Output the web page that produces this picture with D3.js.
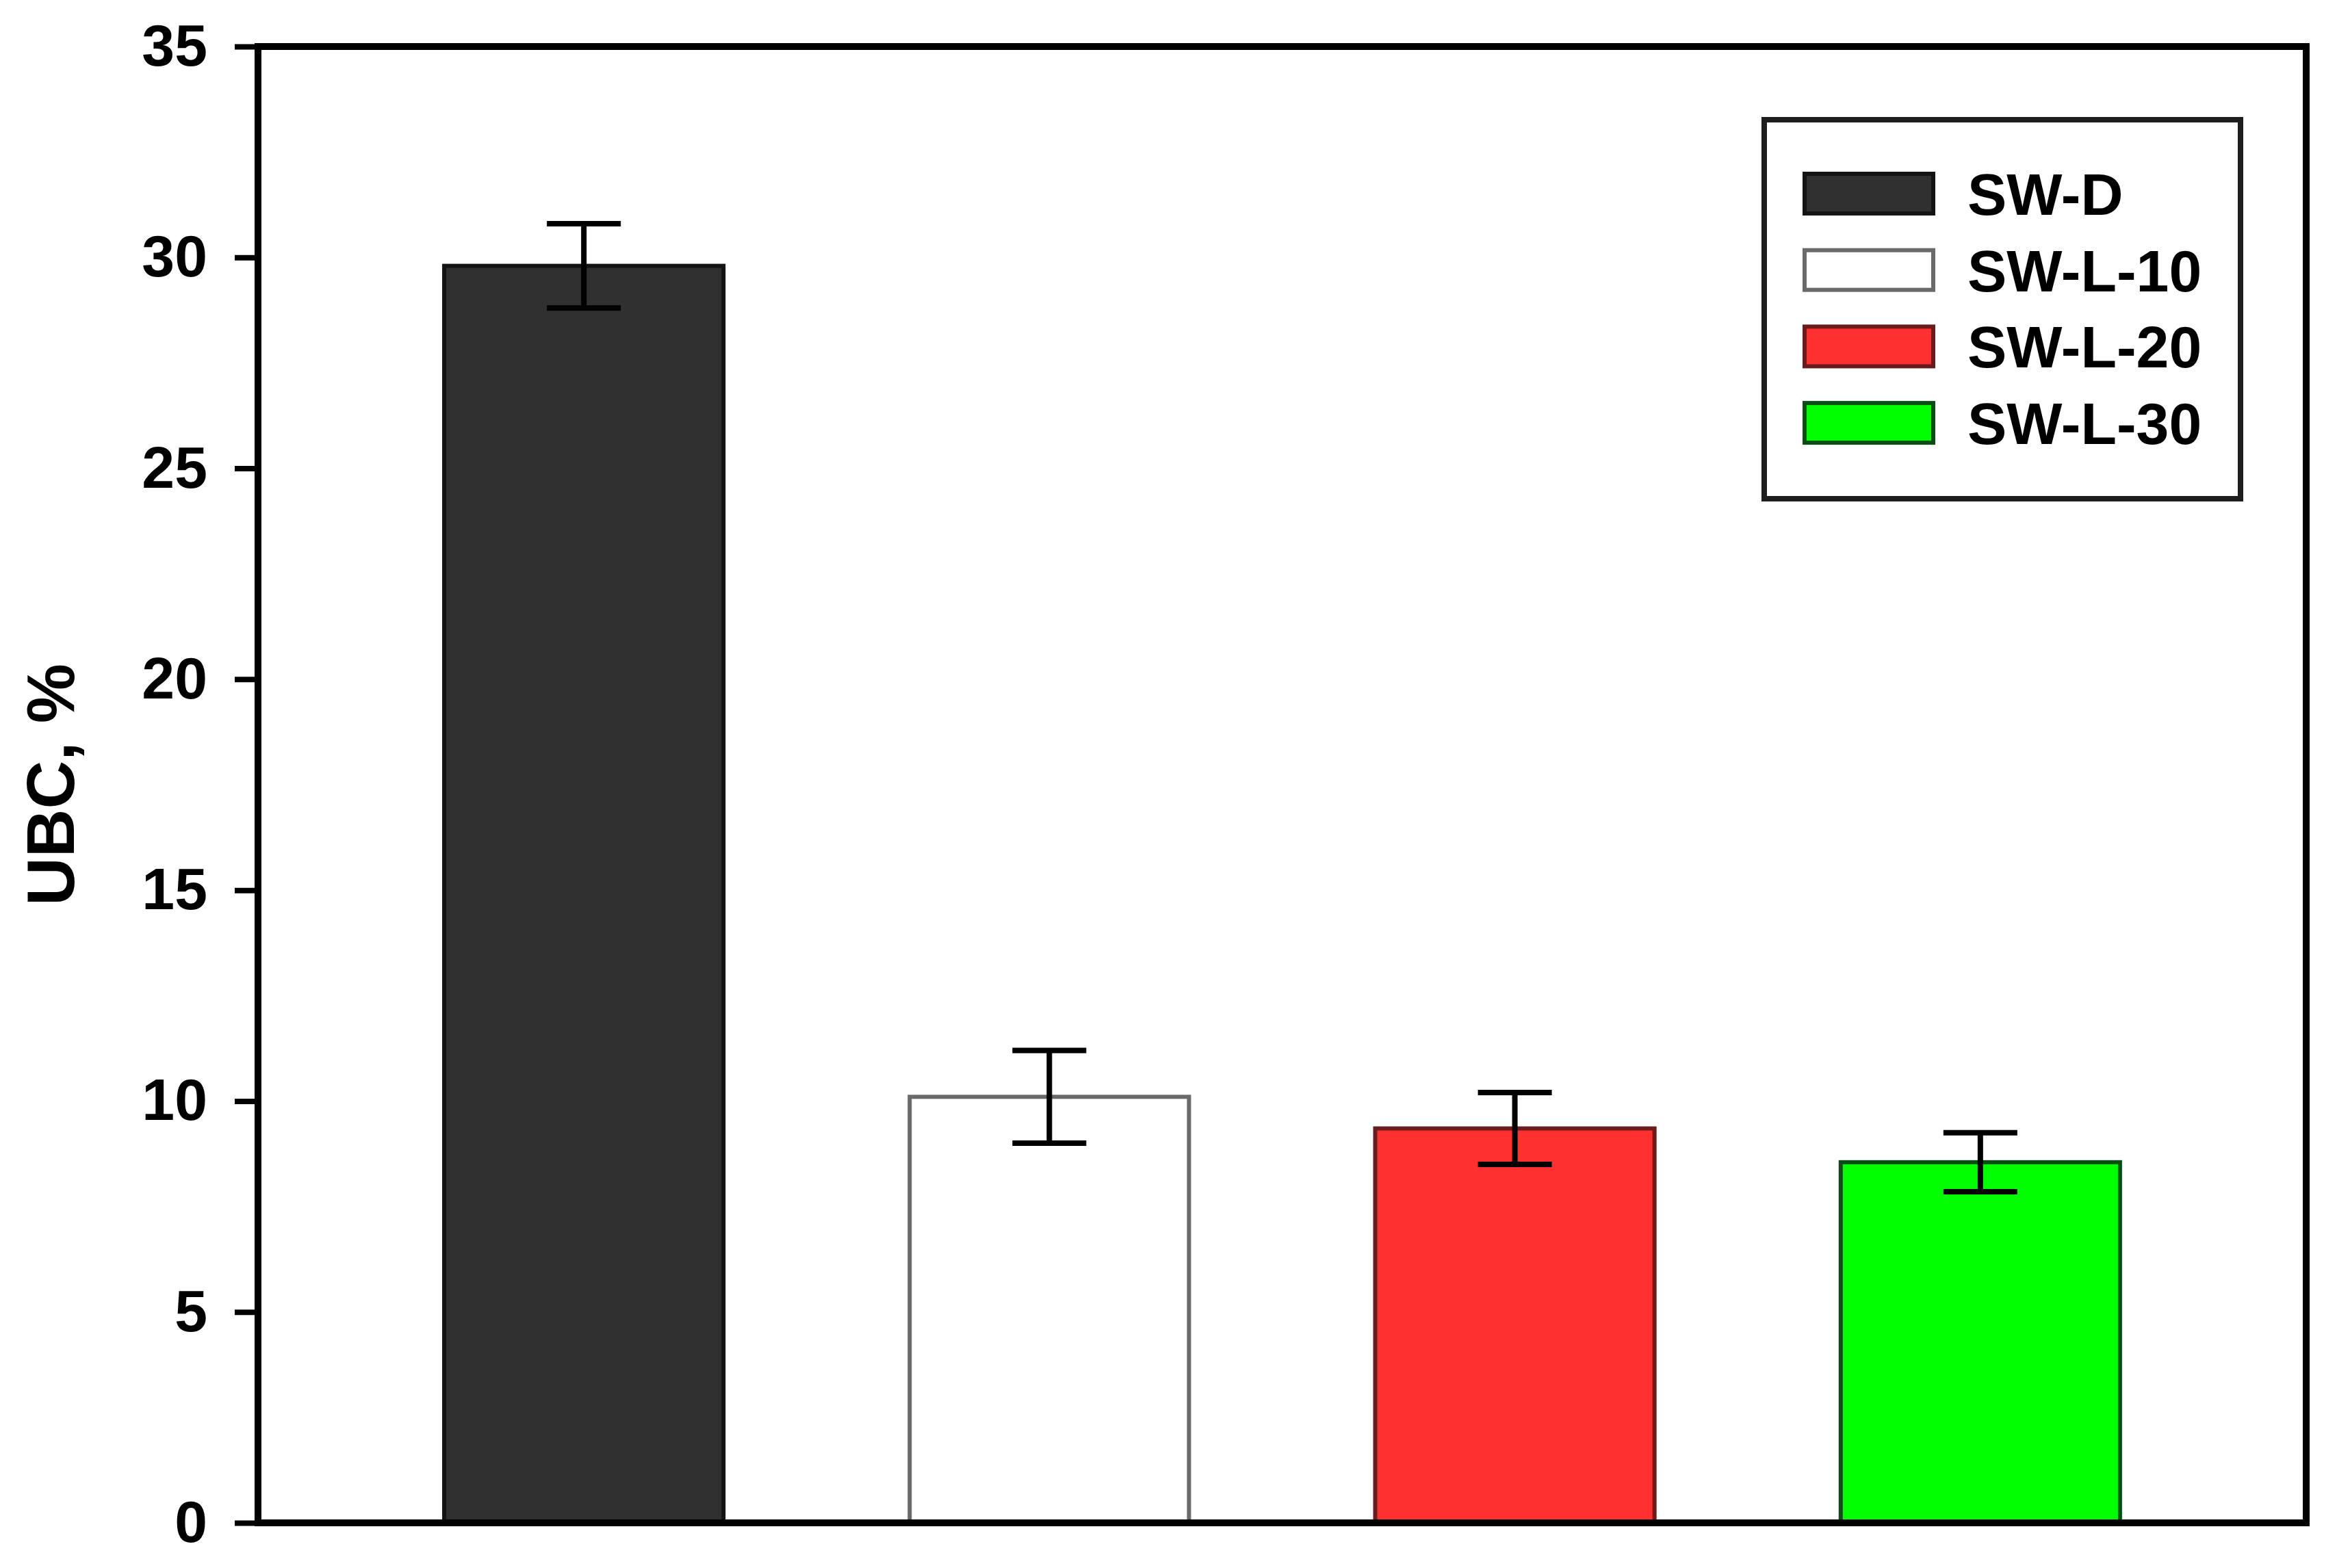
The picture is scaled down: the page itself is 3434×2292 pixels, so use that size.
<!DOCTYPE html>
<html>
<head>
<meta charset="utf-8">
<script src="https://cdn.jsdelivr.net/npm/d3@7"></script>
<style>
  body { margin: 0; background: #ffffff; }
  text { font-family: "Liberation Sans", Arial, sans-serif; font-weight: bold; }
</style>
</head>
<body>
<svg></svg>
<script>
// Data
const samples = ["SW-D", "SW-L-10", "SW-L-20", "SW-L-30"];
const ubcValues = [29.8, 10.1, 9.35, 8.55];
const ubcErrors = [1.0, 1.1, 0.85, 0.7];
const yTicks = [0, 5, 10, 15, 20, 25, 30, 35];

const fills = ["#303030", "#ffffff", "#ff3030", "#00ff00"];
const strokes = ["#141414", "#6a6a6a", "#6a1c1c", "#0b4d14"];

const svgWidth = 3434, svgHeight = 2292;
const margin = { top: 68, right: 64, bottom: 66, left: 377 };
const chartWidth = svgWidth - margin.left - margin.right;
const chartHeight = svgHeight - margin.top - margin.bottom;

const svg = d3.select("svg")
    .attr("width", svgWidth)
    .attr("height", svgHeight)
    .style("background-color", "#ffffff");

const chart = svg.append("g")
    .attr("transform", `translate(${margin.left},${margin.top})`);

// Scales
const xScale = d3.scaleBand()
    .domain(samples)
    .range([0, chartWidth])
    .paddingInner(0.4)
    .paddingOuter(0.4);

const yScale = d3.scaleLinear()
    .domain([0, 35])
    .range([chartHeight, 0]);

const data = samples.map((s, i) => ({
    name: s, value: ubcValues[i], err: ubcErrors[i], fill: fills[i], stroke: strokes[i]
}));

// Bars
chart.selectAll(".bar")
    .data(data)
    .join("rect")
    .attr("class", "bar")
    .attr("x", d => xScale(d.name))
    .attr("width", xScale.bandwidth())
    .attr("y", d => yScale(d.value))
    .attr("height", d => yScale(0) - yScale(d.value))
    .attr("fill", d => d.fill)
    .attr("stroke", d => d.stroke)
    .attr("stroke-width", 6);

// Error bars
const capHalf = 54;
const err = chart.selectAll(".err")
    .data(data)
    .join("g")
    .attr("class", "err")
    .attr("stroke", "#000")
    .attr("stroke-width", 8);

err.append("line")
    .attr("x1", d => xScale(d.name) + xScale.bandwidth() / 2)
    .attr("x2", d => xScale(d.name) + xScale.bandwidth() / 2)
    .attr("y1", d => yScale(d.value + d.err))
    .attr("y2", d => yScale(d.value - d.err));

err.append("line")
    .attr("x1", d => xScale(d.name) + xScale.bandwidth() / 2 - capHalf)
    .attr("x2", d => xScale(d.name) + xScale.bandwidth() / 2 + capHalf)
    .attr("y1", d => yScale(d.value + d.err))
    .attr("y2", d => yScale(d.value + d.err));

err.append("line")
    .attr("x1", d => xScale(d.name) + xScale.bandwidth() / 2 - capHalf)
    .attr("x2", d => xScale(d.name) + xScale.bandwidth() / 2 + capHalf)
    .attr("y1", d => yScale(d.value - d.err))
    .attr("y2", d => yScale(d.value - d.err));

// Y axis
const yAxis = chart.append("g")
    .call(d3.axisLeft(yScale).tickValues(yTicks).tickSize(34).tickPadding(40));
yAxis.select(".domain").remove();
yAxis.selectAll(".tick line").attr("stroke", "#000").attr("stroke-width", 8);
yAxis.selectAll(".tick text")
    .attr("fill", "#000")
    .style("font-size", "86px");

// Frame
chart.append("rect")
    .attr("x", 0)
    .attr("y", 0)
    .attr("width", chartWidth)
    .attr("height", chartHeight)
    .attr("fill", "none")
    .attr("stroke", "#000")
    .attr("stroke-width", 10);

// Y label
svg.append("text")
    .attr("transform", `translate(108, ${margin.top + chartHeight / 2}) rotate(-90)`)
    .attr("text-anchor", "middle")
    .style("font-size", "98px")
    .attr("fill", "#000")
    .text("UBC, %");

// Legend
const legend = svg.append("g").attr("transform", "translate(2578, 175)");
legend.append("rect")
    .attr("width", 696)
    .attr("height", 554)
    .attr("fill", "#fff")
    .attr("stroke", "#1e1e1e")
    .attr("stroke-width", 8);

data.forEach((d, i) => {
    const item = legend.append("g")
        .attr("transform", `translate(0, ${108 + i * 111.7})`);
    item.append("rect")
        .attr("x", 59)
        .attr("y", -29)
        .attr("width", 188)
        .attr("height", 58)
        .attr("fill", d.fill)
        .attr("stroke", d.stroke)
        .attr("stroke-width", 6);
    item.append("text")
        .attr("x", 297)
        .attr("y", 0)
        .attr("dy", "0.36em")
        .style("font-size", "86px")
        .attr("fill", "#000")
        .text(d.name);
});
</script>
</body>
</html>
